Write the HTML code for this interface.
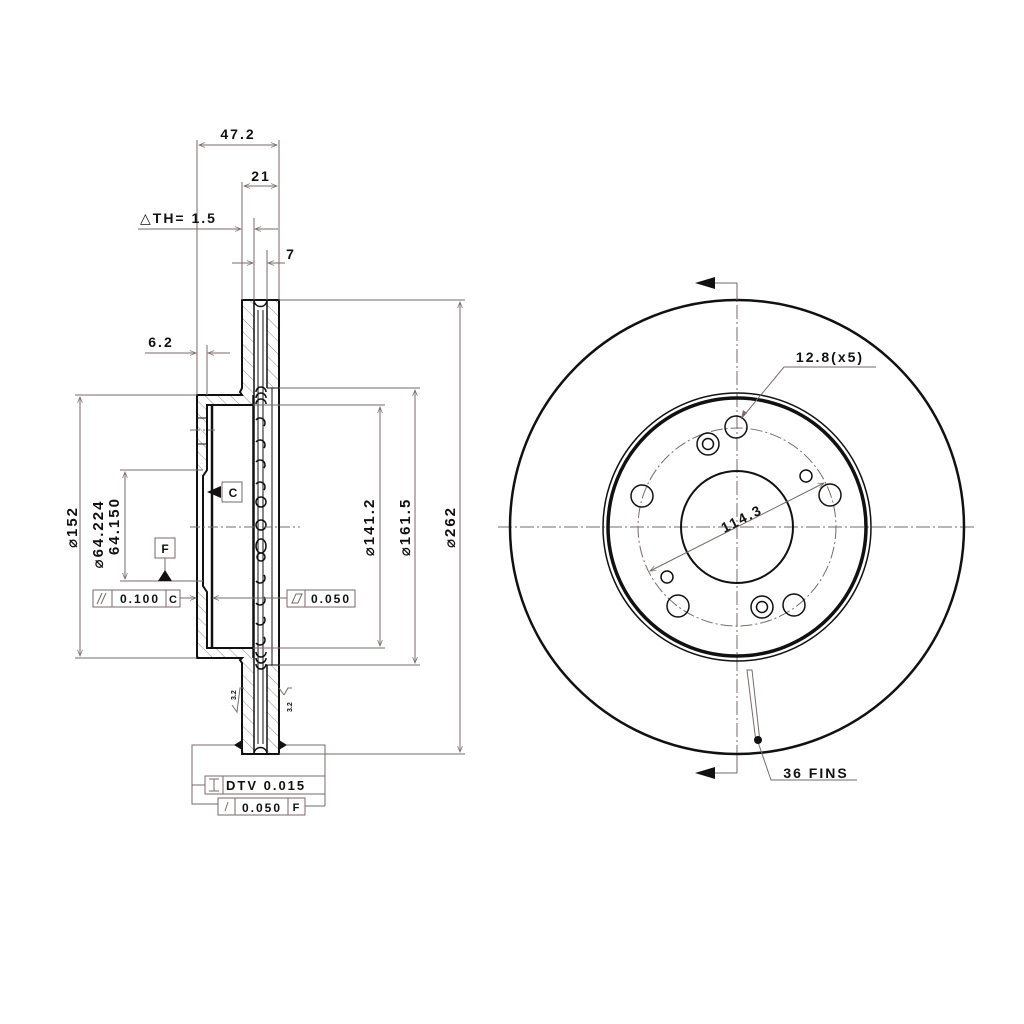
<!DOCTYPE html>
<html><head><meta charset="utf-8"><style>
html,body{margin:0;padding:0;background:#fff}
svg{display:block}
text{font-family:"Liberation Sans","DejaVu Sans",sans-serif;font-weight:bold;fill:#111;letter-spacing:2px}
</style></head><body>
<svg width="1024" height="1024" viewBox="0 0 1024 1024" xmlns="http://www.w3.org/2000/svg">
<defs>
<pattern id="h" patternUnits="userSpaceOnUse" width="9" height="9" patternTransform="rotate(-45)">
<line x1="0" y1="0" x2="0" y2="9" stroke="#a08888" stroke-width="1"/>
</pattern>
<marker id="a" viewBox="0 0 10 10" refX="10" refY="5" markerWidth="8" markerHeight="6" orient="auto-start-reverse"><path d="M0,1 L10,5 L0,9" fill="none" stroke="#7a6a6a" stroke-width="1.2"/></marker>
</defs>
<rect width="1024" height="1024" fill="#fff"/>

<g fill="url(#h)" stroke="none">
<rect x="242" y="300" width="12" height="95"/>
<rect x="267" y="300" width="12" height="88"/>
<rect x="197" y="395" width="56" height="10"/>
<rect x="197" y="405" width="10" height="65"/>
<rect x="197" y="592" width="10" height="56"/>
<rect x="197" y="648" width="56" height="10"/>
<rect x="242" y="658" width="12" height="96"/>
<rect x="267" y="665" width="12" height="89"/>
</g>
<g fill="none" stroke="#111" stroke-width="2">
<path d="M242,300 L279,300 L279,754 L242,754 L242,663 L240,660 L242,658 L197,658 L197,395 L242,395 L240,392 L242,388 Z"/>
<line x1="254" y1="300" x2="254" y2="754" stroke-width="1.5"/>
<line x1="267" y1="300" x2="267" y2="388" stroke-width="1.5"/>
<line x1="267" y1="665" x2="267" y2="754" stroke-width="1.5"/>
<line x1="258" y1="310" x2="258" y2="744" stroke-width="1"/>
<line x1="263" y1="310" x2="263" y2="744" stroke-width="1"/>
<path d="M254,300 A6,6 0 0 0 267,300" stroke-width="1.5"/>
<path d="M254,754 A6,6 0 0 1 267,754" stroke-width="1.5"/>
<line x1="267" y1="388" x2="279" y2="388" stroke-width="1"/>
<line x1="267" y1="665" x2="279" y2="665" stroke-width="1"/>
<path d="M253,405 L207,405 L207,470 L203,476 L203,586 L207,592 L207,648 L253,648"/>
<line x1="212" y1="405" x2="212" y2="648" stroke-width="2.5"/>
<line x1="253" y1="395" x2="253" y2="658" stroke-width="1.5"/>
<line x1="272" y1="388" x2="272" y2="665" stroke-width="1"/>
<line x1="197" y1="418" x2="207" y2="418" stroke-width="1"/>
<line x1="197" y1="444" x2="207" y2="444" stroke-width="1"/>
</g>
<g fill="none" stroke="#111" stroke-width="1.5">
<path d="M256,392 a5,5 0 0 1 10,0"/><path d="M256,398 a5,5 0 0 1 10,0"/><path d="M256,404 a5,5 0 0 1 10,0"/>
<path d="M256,420 a5,5 0 0 1 8,6"/><path d="M256,442 a5,5 0 0 1 8,6"/><path d="M256,462 a5,5 0 0 1 8,6"/><path d="M256,484 a5,5 0 0 1 8,6"/>
<circle cx="261" cy="502" r="5"/><circle cx="261" cy="525" r="5"/><ellipse cx="261" cy="546" rx="5" ry="7"/><circle cx="261" cy="557" r="4"/>
<path d="M264,575 a5,5 0 0 1 -8,6"/><path d="M264,597 a5,5 0 0 1 -8,6"/><path d="M264,617 a5,5 0 0 1 -8,6"/><path d="M264,637 a5,5 0 0 1 -8,6"/>
<path d="M256,652 a5,5 0 0 0 10,0"/><path d="M256,658 a5,5 0 0 0 10,0"/><path d="M256,664 a5,5 0 0 0 10,0"/>
</g>
<g stroke="#7a6a6a" stroke-width="1" stroke-dasharray="10,3,2,3">
<line x1="190" y1="430" x2="215" y2="430"/>
<line x1="190" y1="527" x2="300" y2="527"/>
</g>

<g stroke="#7a6a6a" stroke-width="1" fill="none">
<line x1="197" y1="140" x2="197" y2="395"/>
<line x1="279" y1="140" x2="279" y2="300"/>
<line x1="242" y1="182" x2="242" y2="300"/>
<line x1="254" y1="218" x2="254" y2="300"/>
<line x1="267" y1="250" x2="267" y2="300"/>
<line x1="207" y1="345" x2="207" y2="395"/>
<line x1="199" y1="145" x2="277" y2="145" marker-start="url(#a)" marker-end="url(#a)"/>
<line x1="244" y1="186" x2="277" y2="186" marker-start="url(#a)" marker-end="url(#a)"/>
<line x1="138" y1="229" x2="241" y2="229" marker-end="url(#a)"/>
<line x1="278" y1="229" x2="255" y2="229" marker-end="url(#a)"/>
<line x1="232" y1="263" x2="253" y2="263" marker-end="url(#a)"/>
<line x1="285" y1="263" x2="268" y2="263" marker-end="url(#a)"/>
<line x1="145" y1="353" x2="196" y2="353" marker-end="url(#a)"/>
<line x1="230" y1="353" x2="208" y2="353" marker-end="url(#a)"/>
<line x1="75" y1="395" x2="197" y2="395"/>
<line x1="75" y1="658" x2="197" y2="658"/>
<line x1="80" y1="397" x2="80" y2="656" marker-start="url(#a)" marker-end="url(#a)"/>
<line x1="120" y1="470" x2="203" y2="470"/>
<line x1="120" y1="581" x2="203" y2="581"/>
<line x1="125" y1="472" x2="125" y2="579" marker-start="url(#a)" marker-end="url(#a)"/>
<line x1="279" y1="300" x2="465" y2="300"/>
<line x1="279" y1="754" x2="465" y2="754"/>
<line x1="460" y1="302" x2="460" y2="752" marker-start="url(#a)" marker-end="url(#a)"/>
<line x1="279" y1="388" x2="420" y2="388"/>
<line x1="279" y1="665" x2="420" y2="665"/>
<line x1="415" y1="390" x2="415" y2="663" marker-start="url(#a)" marker-end="url(#a)"/>
<line x1="253" y1="405" x2="385" y2="405"/>
<line x1="253" y1="648" x2="385" y2="648"/>
<line x1="380" y1="407" x2="380" y2="646" marker-start="url(#a)" marker-end="url(#a)"/>
<line x1="180" y1="598" x2="196" y2="598" marker-end="url(#a)"/>
<line x1="287" y1="598" x2="213" y2="598" marker-end="url(#a)"/>
<line x1="165" y1="558" x2="165" y2="572"/>
<polyline points="279,745 325,745 325,776"/>
<polyline points="242,745 192,745 192,804 218,804"/>
<line x1="192" y1="785" x2="205" y2="785"/>
<line x1="305" y1="806" x2="325" y2="806"/>
<line x1="325" y1="794" x2="325" y2="806"/>
<polyline points="232,705 237,712 240,688 244,688"/>
<polyline points="284,695 288,688 292,688"/>
<polyline points="284,695 279,688"/>
</g>
<text transform="translate(236,700) rotate(-90)" style="font-size:7px;letter-spacing:0">3.2</text>
<text transform="translate(292,712) rotate(-90)" style="font-size:7px;letter-spacing:0">3.2</text>
<g fill="#111">
<path d="M207,492 L221,486 L221,498 Z"/>
<path d="M158,581 L165,570 L172,581 Z"/>
<path d="M234,745 L242,740 L242,750 Z"/>
<path d="M287,745 L279,740 L279,750 Z"/>
</g>
<g fill="none" stroke="#7a6a6a" stroke-width="1">
<rect x="222" y="482" width="20" height="20"/>
<rect x="155" y="538" width="20" height="20"/>
<rect x="93" y="590" width="87" height="17"/>
<line x1="112" y1="590" x2="112" y2="607"/><line x1="166" y1="590" x2="166" y2="607"/>
<line x1="97" y1="604" x2="102" y2="593"/><line x1="101" y1="604" x2="106" y2="593"/>
<rect x="287" y="590" width="68" height="17"/>
<line x1="305" y1="590" x2="305" y2="607"/>
<path d="M292,603 L296,594 L302,594 L298,603 Z"/>
<rect x="205" y="776" width="120" height="18"/>
<line x1="223" y1="776" x2="223" y2="794"/>
<path d="M209,779 L219,779 M214,779 L214,791 M209,791 L219,791"/>
<rect x="218" y="798" width="87" height="17"/>
<line x1="235" y1="798" x2="235" y2="815"/><line x1="288" y1="798" x2="288" y2="815"/>
<line x1="225" y1="811" x2="228" y2="802"/>
</g>
<g style="font-size:14px">
<text x="238" y="139" text-anchor="middle">47.2</text>
<text x="261" y="181" text-anchor="middle">21</text>
<text x="140" y="223">△TH= 1.5</text>
<text x="291" y="259" text-anchor="middle">7</text>
<text x="161" y="347" text-anchor="middle">6.2</text>
<text x="233" y="497" text-anchor="middle" style="font-size:12px;letter-spacing:0">C</text>
<text x="165" y="553" text-anchor="middle" style="font-size:12px;letter-spacing:0">F</text>
<text x="140" y="603" text-anchor="middle" style="font-size:12px">0.100</text>
<text x="173" y="603" text-anchor="middle" style="font-size:11px;letter-spacing:0">C</text>
<text x="331" y="603" text-anchor="middle" style="font-size:12px">0.050</text>
<text x="226" y="790" style="font-size:13px">DTV 0.015</text>
<text x="262" y="812" text-anchor="middle" style="font-size:12px">0.050</text>
<text x="296" y="811" text-anchor="middle" style="font-size:11px;letter-spacing:0">F</text>
<text transform="translate(77,527) rotate(-90)" text-anchor="middle" style="font-size:15px">⌀152</text>
<text transform="translate(103,534) rotate(-90)" text-anchor="middle" style="font-size:15px">⌀64.224</text>
<text transform="translate(119,526) rotate(-90)" text-anchor="middle" style="font-size:15px">64.150</text>
<text transform="translate(374,527) rotate(-90)" text-anchor="middle" style="font-size:15px">⌀141.2</text>
<text transform="translate(410,527) rotate(-90)" text-anchor="middle" style="font-size:15px">⌀161.5</text>
<text transform="translate(455,527) rotate(-90)" text-anchor="middle" style="font-size:15px">⌀262</text>
</g>

<g stroke="#7a6a6a" stroke-width="1" stroke-dasharray="14,3,2,3">
<line x1="498" y1="527" x2="975" y2="527"/>
<line x1="737" y1="283" x2="737" y2="773"/>
</g>
<circle cx="737" cy="527" r="99" fill="none" stroke="#7a6a6a" stroke-width="1" stroke-dasharray="12,3,2,3"/>
<g fill="none" stroke="#111">
<circle cx="737" cy="527" r="227" stroke-width="2.5"/>
<circle cx="737" cy="527" r="134" stroke-width="1.5"/>
<circle cx="737" cy="527" r="129" stroke-width="3.5"/>
<circle cx="737" cy="527" r="56" stroke-width="2"/>
<g stroke-width="1.5">
<circle cx="736" cy="427" r="11"/>
<circle cx="642" cy="496" r="11"/>
<circle cx="830" cy="495" r="11"/>
<circle cx="678" cy="606" r="11"/>
<circle cx="794" cy="605" r="11"/>
<circle cx="708" cy="444" r="11"/><circle cx="708" cy="444" r="5.5"/>
<circle cx="762" cy="607" r="11"/><circle cx="762" cy="607" r="5.5"/>
<circle cx="806" cy="476" r="6"/>
<circle cx="667" cy="577" r="6"/>
</g>
</g>
<g stroke="#7a6a6a" stroke-width="1" fill="none">
<polyline points="737,300 737,283 715,283"/>
<polyline points="737,755 737,773 715,773"/>
</g>
<path d="M695,283 L715,277 L715,289 Z" fill="#111"/>
<path d="M695,773 L715,767 L715,779 Z" fill="#111"/>
<g stroke="#7a6a6a" stroke-width="1" fill="none">
<line x1="650" y1="571" x2="824" y2="483" marker-start="url(#a)" marker-end="url(#a)"/>
<polyline points="876,367 784,367 741,419" />
<path d="M747,670 L752,670 L760,742 L756,742 Z"/>
<polyline points="758,742 771,780 857,780"/>
</g>
<path d="M741,419 L743,410 L747,413 Z" fill="#7a6a6a"/>
<circle cx="758" cy="740" r="4" fill="#111"/>
<g style="font-size:14px">
<text transform="translate(744,523) rotate(-27)" text-anchor="middle">114.3</text>
<text x="830" y="362" text-anchor="middle">12.8(x5)</text>
<text x="816" y="778" text-anchor="middle">36 FINS</text>
</g>
</svg>
</body></html>
